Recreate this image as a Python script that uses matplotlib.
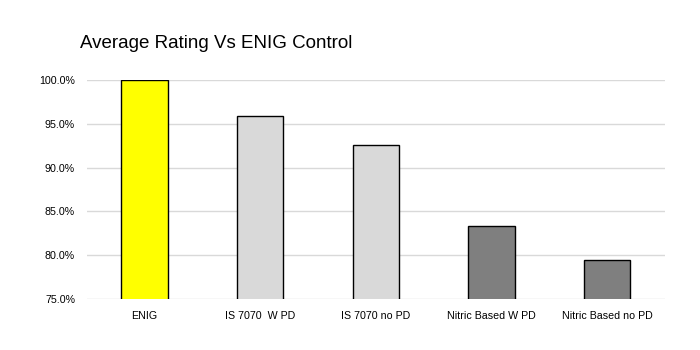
import matplotlib
matplotlib.use("Agg")
import matplotlib.pyplot as plt
from matplotlib.ticker import PercentFormatter

plt.rcParams['font.family'] = ['Liberation Sans', 'DejaVu Sans']

categories = ["ENIG", "IS 7070  W PD", "IS 7070 no PD", "Nitric Based W PD", "Nitric Based no PD"]
ratings = [100.0, 95.9, 92.6, 83.3, 79.4]
bar_colors = ["#FFFF00", "#D9D9D9", "#D9D9D9", "#7F7F7F", "#7F7F7F"]

fig = plt.figure(figsize=(7, 3.5), dpi=100)
ax = fig.add_axes([0.124, 0.146, 0.826, 0.625])

x = range(len(categories))
ax.bar(x, ratings, width=0.4, color=bar_colors, edgecolor="black", linewidth=1, zorder=3)

ax.set_ylim(75, 100)
ax.set_xlim(-0.5, len(categories) - 0.5)
ax.set_yticks([75, 80, 85, 90, 95, 100])
ax.yaxis.set_major_formatter(PercentFormatter(decimals=1))
ax.set_xticks(list(x))
ax.set_xticklabels(categories)
ax.tick_params(axis="both", length=0, labelsize=7.7, colors="black")
ax.tick_params(axis="x", pad=8.5)
ax.tick_params(axis="y", pad=8.5)
ax.grid(axis="y", color="#D9D9D9", linewidth=1, zorder=0)
for s in ax.spines.values():
    s.set_visible(False)

fig.text(80 / 700, 1 - 48 / 350, "Average Rating Vs ENIG Control", fontsize=13.5, ha="left", va="baseline")

fig.savefig("out.png", dpi=100)
